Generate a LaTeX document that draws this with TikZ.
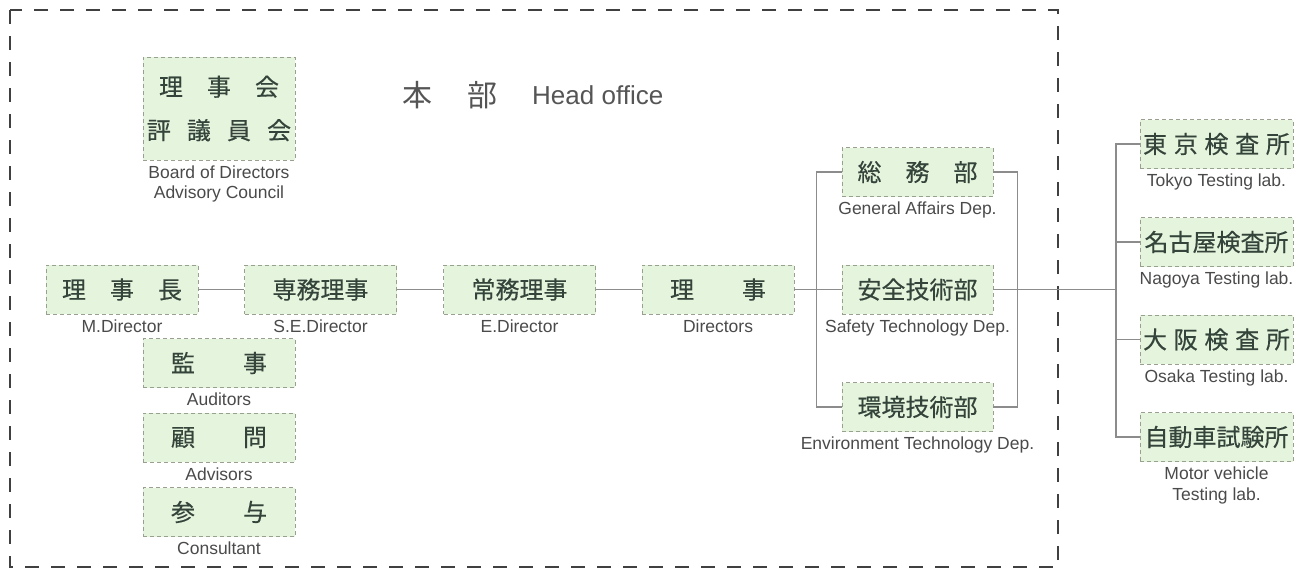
\documentclass[tikz,border=0pt]{standalone}
\usepackage{fontspec}
\setmainfont{Liberation Sans}
\newfontfamily\cjkfam{Noto Sans CJK JP}
\newfontfamily\cjkboxfam{Noto Sans CJK JP}[FakeBold=0.35]
\definecolor{boxfill}{HTML}{E5F4DD}
\definecolor{boxedge}{HTML}{9AA090}
\definecolor{boxtext}{HTML}{34443A}
\definecolor{labtext}{HTML}{4A4A4A}
\definecolor{titletext}{HTML}{555555}
\definecolor{linecol}{HTML}{8C8C8C}
\definecolor{framecol}{HTML}{404040}
\newcommand\jpbox{\cjkboxfam\fontsize{24}{43.5}\selectfont}
\newcommand\gapA{\hspace{1em}}
\newcommand\gapB{\hspace{2em}}
\newcommand\gapC{\hspace{0.28em}}
\tikzset{
  orgbox/.style={draw=boxedge, fill=boxfill, line width=0.8pt, dash pattern=on 4pt off 3pt,
    minimum width=152pt, minimum height=49pt, inner sep=0pt, text=boxtext, font=\jpbox, align=center},
  sublabel/.style={anchor=north, inner sep=0pt, text=labtext, align=center,
    font=\fontsize{17.5}{20.5}\selectfont},
  conn/.style={draw=linecol, line width=1.1pt},
  frame/.style={draw=framecol, line width=2.4pt, dash pattern=on 14pt off 12pt},
}
\begin{document}
\begin{tikzpicture}[x=1pt,y=-1pt]
\useasboundingbox (0,0) rectangle (1303,571);
\draw[frame] (10,10) rectangle (1058,567);

% title
\node[inner sep=0pt, text=titletext, font=\cjkfam\fontsize{30}{34}\selectfont] (hon) at (417,95) {本};
\node[inner sep=0pt, text=titletext, font=\cjkfam\fontsize{30}{34}\selectfont] (bu) at (482,95) {部};
\node[inner sep=0pt, anchor=west, text=titletext, font=\fontsize{26}{30}\selectfont] (headoffice) at (532,95) {Head office};

% boxes
\node[orgbox, minimum height=103pt] (board) at (219,108.5) {理\gapA 事\gapA 会\\評\hspace{0.67em}議\hspace{0.67em}員\hspace{0.67em}会};
\node[orgbox] (rijicho) at (122,289.5) {理\gapA 事\gapA 長};
\node[orgbox] (senmu) at (320.5,289.5) {専務理事};
\node[orgbox] (jomu) at (519.5,289.5) {常務理事};
\node[orgbox] (riji) at (718,289.5) {理\gapB 事};
\node[orgbox] (kansa) at (219,363) {監\gapB 事};
\node[orgbox] (komon) at (219,437.5) {顧\gapB 問};
\node[orgbox] (sanyo) at (219,512) {参\gapB 与};
\node[orgbox, minimum width=151pt] (somu) at (917.5,172) {総\gapA 務\gapA 部};
\node[orgbox, minimum width=151pt] (anzen) at (917.5,289.5) {安全技術部};
\node[orgbox, minimum width=151pt] (kankyo) at (917.5,407) {環境技術部};
\node[orgbox, minimum width=153pt] (tokyo) at (1216.5,144) {東\gapC 京\gapC 検\gapC 査\gapC 所};
\node[orgbox, minimum width=153pt] (nagoya) at (1216.5,242) {名古屋検査所};
\node[orgbox, minimum width=153pt] (osaka) at (1216.5,339.5) {大\gapC 阪\gapC 検\gapC 査\gapC 所};
\node[orgbox, minimum width=153pt] (jidosha) at (1216.5,437) {自動車試験所};

% labels
\node[sublabel] (lboard) at ([yshift=-5pt]board.south) {Board of Directors\\Advisory Council};
\node[sublabel] (lrijicho) at ([yshift=-5pt]rijicho.south) {M.Director};
\node[sublabel] (lsenmu) at ([yshift=-5pt]senmu.south) {S.E.Director};
\node[sublabel] (ljomu) at ([yshift=-5pt]jomu.south) {E.Director};
\node[sublabel] (lriji) at ([yshift=-5pt]riji.south) {Directors};
\node[sublabel] (lkansa) at ([yshift=-5pt]kansa.south) {Auditors};
\node[sublabel] (lkomon) at ([yshift=-5pt]komon.south) {Advisors};
\node[sublabel] (lsanyo) at ([yshift=-5pt]sanyo.south) {Consultant};
\node[sublabel] (lsomu) at ([yshift=-5pt]somu.south) {General Affairs Dep.};
\node[sublabel] (lanzen) at ([yshift=-5pt]anzen.south) {Safety Technology Dep.};
\node[sublabel] (lkankyo) at ([yshift=-5pt]kankyo.south) {Environment Technology Dep.};
\node[sublabel] (ltokyo) at ([yshift=-5pt]tokyo.south) {Tokyo Testing lab.};
\node[sublabel] (lnagoya) at ([yshift=-5pt]nagoya.south) {Nagoya Testing lab.};
\node[sublabel] (losaka) at ([yshift=-5pt]osaka.south) {Osaka Testing lab.};
\node[sublabel] (ljidosha) at ([yshift=-5pt]jidosha.south) {Motor vehicle\\Testing lab.};

% connectors
\draw[conn] (rijicho.east) -- (senmu.west);
\draw[conn] (senmu.east) -- (jomu.west);
\draw[conn] (jomu.east) -- (riji.west);
\draw[conn] (riji.east) -- (anzen.west);
\draw[conn] (somu.west) -- ++(-25,0) |- (kankyo.west);
\draw[conn] (somu.east) -- ++(24,0) |- (kankyo.east);
\coordinate (labbr) at (1116,289.5);
\draw[conn] (anzen.east) -- (labbr);
\draw[conn] (tokyo.west) -- (tokyo.west -| labbr) -- (jidosha.west -| labbr) -- (jidosha.west);
\draw[conn] (nagoya.west) -- (nagoya.west -| labbr);
\draw[conn] (osaka.west) -- (osaka.west -| labbr);
\end{tikzpicture}
\end{document}
